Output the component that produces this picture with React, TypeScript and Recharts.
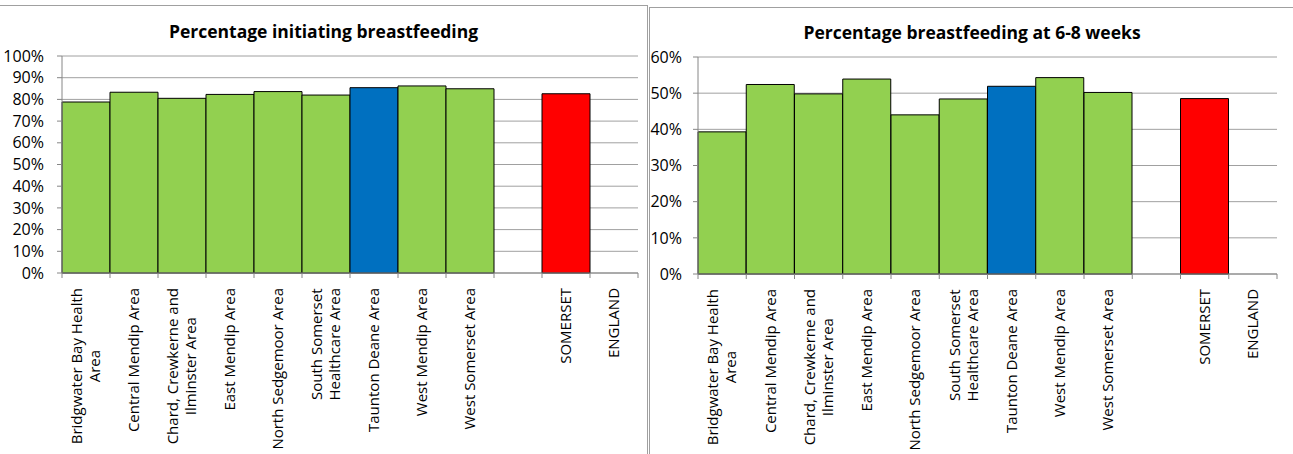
import { Bar, BarChart, CartesianGrid, Cell, XAxis, YAxis } from 'recharts';

const areas = [
  'Bridgwater Bay Health\nArea',
  'Central Mendip Area',
  'Chard, Crewkerne and\nIlminster Area',
  'East Mendip Area',
  'North Sedgemoor Area',
  'South Somerset\nHealthcare Area',
  'Taunton Deane Area',
  'West Mendip Area',
  'West Somerset Area',
  '',
  'SOMERSET',
  'ENGLAND',
];

// percentages (null = no bar)
const initiating = [78.8, 83.3, 80.5, 82.3, 83.6, 82.0, 85.4, 86.2, 84.9, null, 82.6, null];
const sixToEight = [39.3, 52.4, 49.8, 53.9, 44.0, 48.4, 51.9, 54.3, 50.2, null, 48.5, null];

const initiatingTicks = [0, 10, 20, 30, 40, 50, 60, 70, 80, 90, 100];
const sixToEightTicks = [0, 10, 20, 30, 40, 50, 60];

const FONT = "'Open Sans', sans-serif";
const LABEL_SIZE = 15;
const TICK_SIZE = 16;
const GREEN = '#92D050';
const BLUE = '#0070C0';
const RED = '#FF0000';

const colorFor = (name: string) => {
  if (name === 'Taunton Deane Area') return BLUE;
  if (name === 'SOMERSET') return RED;
  return GREEN;
};

let ctx: CanvasRenderingContext2D | null = null;
const textWidth = (s: string, size: number) => {
  if (!ctx) ctx = document.createElement('canvas').getContext('2d');
  if (!ctx) return s.length * size * 0.52;
  ctx.font = `${size}px "Open Sans"`;
  return ctx.measureText(s).width;
};

const makeTick = (step: number, count: number) => (props: any) => {
  const { x, y, payload, index } = props;
  const lines = String(payload.value).split('\n');
  const w = Math.max(...lines.map((l) => textWidth(l, LABEL_SIZE)));
  const cx = -(15 + w / 2);
  const lh = 18;
  const y0 = -((lines.length - 1) * lh) / 2;
  return (
    <g transform={`translate(${x},${y})`}>
      <line x1={-step / 2} x2={-step / 2} y1={0} y2={5} stroke="#868686" />
      {index === count - 1 && <line x1={step / 2} x2={step / 2} y1={0} y2={5} stroke="#868686" />}
      <text transform="rotate(-90)" fontFamily={FONT} fontSize={LABEL_SIZE} fill="#000" textAnchor="middle">
        {lines.map((l, i) => (
          <tspan key={i} x={cx} y={y0 + i * lh} dy="0.35em">
            {l}
          </tspan>
        ))}
      </text>
    </g>
  );
};

type ChartProps = {
  values: (number | null)[];
  ticks: number[];
  width: number;
  top: number;
  right: number;
  axisWidth: number;
  tickMargin: number;
};

const AreaChartPanel = ({ values, ticks, width, top, right, axisWidth, tickMargin }: ChartProps) => {
  const data = areas.map((name, i) => ({ name, value: values[i] }));
  const max = ticks[ticks.length - 1];
  const xHeight = 454 - top - 217;
  const step = (width - right - axisWidth) / areas.length;
  return (
    <BarChart
      width={width}
      height={454}
      data={data}
      margin={{ top, right, bottom: 0, left: 0 }}
      barCategoryGap={0}
      barGap={0}
    >
      <CartesianGrid vertical={false} stroke="#a0a0a0" />
      <XAxis
        dataKey="name"
        interval={0}
        height={xHeight}
        tickSize={0}
        tickMargin={0}
        tickLine={false}
        axisLine={{ stroke: '#868686' }}
        tick={makeTick(step, areas.length)}
      />
      <XAxis
        xAxisId="top"
        dataKey="name"
        orientation="top"
        height={0}
        tick={false}
        tickLine={false}
        axisLine={{ stroke: '#404040' }}
      />
      <YAxis
        domain={[0, max]}
        ticks={ticks}
        interval={0}
        width={axisWidth}
        tickSize={5}
        tickMargin={tickMargin}
        tickFormatter={(v) => `${v}%`}
        tick={{ fontFamily: FONT, fontSize: TICK_SIZE, fill: '#000' }}
        axisLine={{ stroke: '#868686' }}
        tickLine={{ stroke: '#868686' }}
      />
      <YAxis
        yAxisId="right"
        orientation="right"
        domain={[0, max]}
        width={0}
        tick={false}
        tickLine={false}
        axisLine={{ stroke: '#404040' }}
      />
      <Bar dataKey="value" stroke="#000" strokeWidth={1} isAnimationActive={false}>
        {data.map((d, i) => (
          <Cell key={i} fill={colorFor(d.name)} />
        ))}
      </Bar>
    </BarChart>
  );
};

const titleStyle = {
  position: 'absolute' as const,
  top: 19,
  fontFamily: FONT,
  fontWeight: 700,
  fontSize: 17.5,
  lineHeight: '24px',
  textAlign: 'center' as const,
  color: '#000',
};

export default function App() {
  return (
    <div style={{ position: 'absolute', left: 0, top: 0, width: 1293, height: 454, overflow: 'hidden', background: '#fff' }}>
      <div style={{ position: 'absolute', left: -1, top: 5, width: 647, height: 460, border: '1px solid #a0a0a0' }} />
      <div style={{ position: 'absolute', left: 649, top: 7, width: 700, height: 460, border: '1px solid #a0a0a0' }} />
      <div style={{ ...titleStyle, left: 0, width: 647 }}>Percentage initiating breastfeeding</div>
      <div style={{ ...titleStyle, left: 649, width: 646, top: 20 }}>Percentage breastfeeding at 6-8 weeks</div>
      <div style={{ position: 'absolute', left: 0, top: 0 }}>
        <AreaChartPanel values={initiating} ticks={initiatingTicks} width={647} top={56} right={9} axisWidth={62} tickMargin={13} />
      </div>
      <div style={{ position: 'absolute', left: 647, top: 0 }}>
        <AreaChartPanel values={sixToEight} ticks={sixToEightTicks} width={646} top={57} right={16} axisWidth={51} tickMargin={11} />
      </div>
    </div>
  );
}
